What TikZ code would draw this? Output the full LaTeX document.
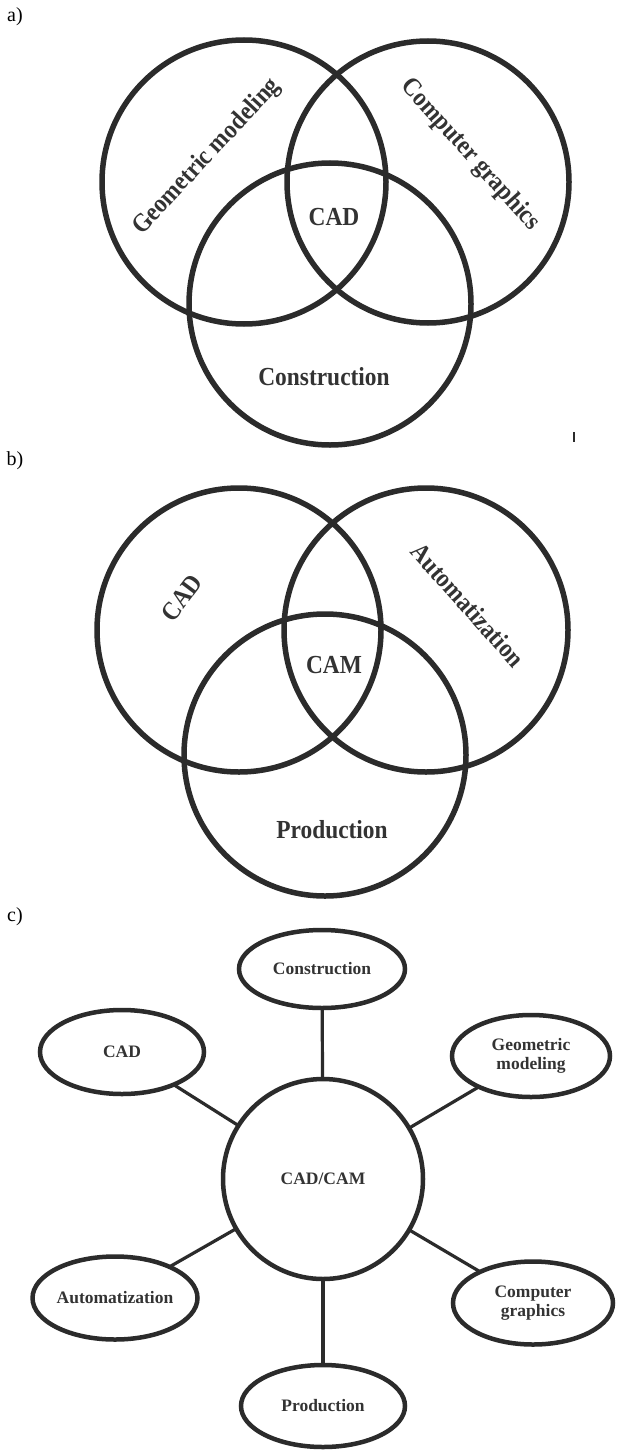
\documentclass[tikz,border=0pt]{standalone}
\usepackage{fontspec}
\setmainfont{Liberation Serif}
\usetikzlibrary{shapes.geometric}
\definecolor{ink}{HTML}{2B2B2B}
\definecolor{txt}{HTML}{333333}
\newcommand{\narrow}[1]{\scalebox{0.9}[1]{#1}}
\begin{document}
\begin{tikzpicture}[x=1pt,y=-1pt,
  venn/.style={draw=ink, line width=5.5pt},
  vlabel/.style={font=\fontsize{26}{28}\selectfont\bfseries, text=txt, inner sep=0pt},
  partlabel/.style={font=\fontsize{20}{22}\selectfont, text=black, inner sep=0pt},
  bubble/.style={ellipse, draw=ink, line width=4.5pt, inner sep=0pt, outer sep=0pt,
     font=\fontsize{17.5}{18.5}\selectfont\bfseries, text=txt, align=center},
  link/.style={draw=ink, line width=3.2pt}]
\fill[white] (0,0) rectangle (616,1450);
\useasboundingbox (0,0) rectangle (616,1450);

% ---------- a) ----------
\node[partlabel] (la) at (15,17) {a)};
\draw[venn] (244,182) circle[radius=142pt];
\draw[venn] (428,182) circle[radius=141pt];
\draw[venn] (330,304) circle[radius=141pt];
\node[vlabel, rotate=47] (ageo) at (207,157) {\narrow{Geometric modeling}};
\node[vlabel, rotate=-48] (acg) at (470,155) {\narrow{Computer graphics}};
\node[vlabel] (acad) at (334,217) {\narrow{CAD}};
\node[vlabel] (acons) at (324,377) {\narrow{Construction}};
\draw[ink, line width=1.5pt] (574,432) -- (574,442);

% ---------- b) ----------
\node[partlabel] (lb) at (15,461) {b)};
\draw[venn] (239,630) circle[radius=142pt];
\draw[venn] (426,630) circle[radius=142pt];
\draw[venn] (325,755) circle[radius=141pt];
\node[vlabel, rotate=53] (bcad) at (182,598) {\narrow{CAD}};
\node[vlabel, rotate=-48] (bauto) at (468,605) {\narrow{Automatization}};
\node[vlabel] (bcam) at (334,665) {\narrow{CAM}};
\node[vlabel] (bprod) at (332,830) {\narrow{Production}};

% ---------- c) ----------
\node[partlabel] (lc) at (15,917) {c)};
\node[bubble, minimum width=200pt, minimum height=200pt] (center) at (323,1179) {CAD/CAM};
\node[bubble, minimum width=166pt, minimum height=78pt] (cons) at (322,969) {Construction};
\node[bubble, minimum width=164pt, minimum height=84pt] (cad) at (122,1052) {CAD};
\node[bubble, minimum width=158pt, minimum height=82pt] (geo) at (531,1056) {Geometric\\modeling};
\node[bubble, minimum width=162pt, minimum height=83pt] (auto) at (115,1298) {Automatization};
\node[bubble, minimum width=160pt, minimum height=83pt] (cg) at (533,1303) {Computer\\graphics};
\node[bubble, minimum width=164pt, minimum height=82pt] (prod) at (323,1406) {Production};

\draw[link] (center) -- (cons);
\draw[link] (center) -- (cad);
\draw[link] (center) -- (geo);
\draw[link] (center) -- (auto);
\draw[link] (center) -- (cg);
\draw[link] (center) -- (prod);
\end{tikzpicture}
\end{document}
